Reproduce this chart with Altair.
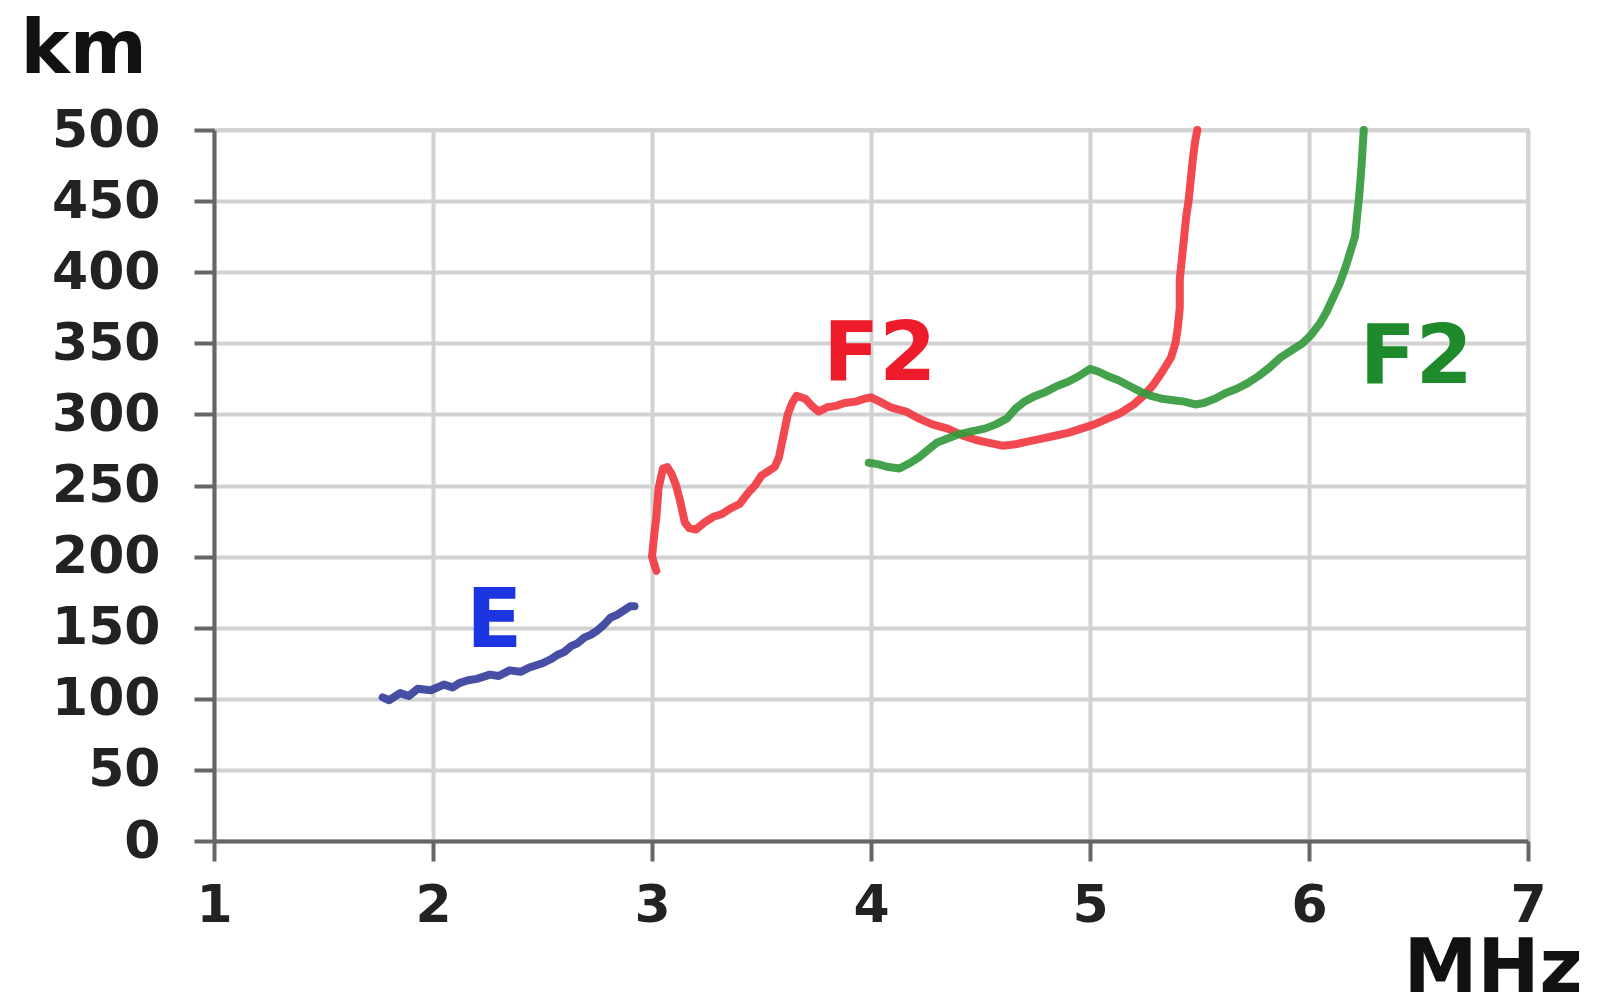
import altair as alt
import pandas as pd

# E layer (blue)
E_mhz = [1.77, 1.80, 1.85, 1.89, 1.93, 1.99, 2.05, 2.09, 2.12, 2.16, 2.20, 2.26, 2.30, 2.35, 2.40,
         2.44, 2.50, 2.54, 2.57, 2.60, 2.63, 2.66, 2.69, 2.72, 2.75, 2.78, 2.81, 2.84, 2.87, 2.90, 2.92]
E_km = [101, 99, 104, 102, 107, 106, 110, 108, 111, 113, 114, 117, 116, 120, 119,
        122, 125, 128, 131, 133, 137, 139, 143, 145, 148, 152, 157, 159, 162, 165, 165]

# F2 layer (red)
R_mhz = [3.02, 3.00, 3.01, 3.02, 3.03, 3.05, 3.07, 3.09, 3.11, 3.13, 3.15, 3.17, 3.20, 3.24, 3.28,
         3.32, 3.36, 3.40, 3.44, 3.47, 3.50, 3.53, 3.56, 3.58, 3.60, 3.62, 3.64, 3.66, 3.70, 3.73,
         3.76, 3.80, 3.84, 3.88, 3.93, 3.97, 4.00, 4.04, 4.09, 4.16, 4.22, 4.28, 4.35, 4.42, 4.48,
         4.54, 4.60, 4.66, 4.72, 4.78, 4.84, 4.90, 4.96, 5.02, 5.08, 5.14, 5.20, 5.25, 5.29, 5.33,
         5.37, 5.39, 5.40, 5.41, 5.41, 5.42, 5.43, 5.44, 5.45, 5.46, 5.47, 5.48, 5.49]
R_km = [190, 200, 215, 228, 248, 262, 263, 258, 250, 238, 224, 220, 219, 224, 228,
        230, 234, 237, 245, 250, 257, 260, 263, 270, 285, 300, 308, 313, 311, 306,
        302, 305, 306, 308, 309, 311, 312, 309, 305, 302, 297, 293, 290, 285, 282,
        280, 278, 279, 281, 283, 285, 287, 290, 293, 297, 301, 307, 314, 321, 330,
        340, 350, 360, 375, 395, 410, 425, 440, 450, 465, 480, 492, 500]

# F2 layer (green)
G_mhz = [3.99, 4.03, 4.08, 4.13, 4.18, 4.22, 4.26, 4.30, 4.35, 4.40, 4.46, 4.52, 4.57, 4.62, 4.66,
         4.70, 4.75, 4.80, 4.85, 4.90, 4.95, 5.00, 5.04, 5.08, 5.13, 5.18, 5.23, 5.28, 5.33, 5.38,
         5.43, 5.48, 5.52, 5.57, 5.62, 5.67, 5.72, 5.77, 5.82, 5.87, 5.92, 5.97, 6.01, 6.05, 6.08,
         6.11, 6.14, 6.17, 6.19, 6.21, 6.22, 6.23, 6.24, 6.25]
G_km = [266, 265, 263, 262, 266, 270, 275, 280, 283, 286, 288, 290, 293, 297, 304,
        309, 313, 316, 320, 323, 327, 332, 330, 327, 324, 320, 316, 313, 311, 310,
        309, 307, 308, 311, 315, 318, 322, 327, 333, 340, 345, 350, 356, 364, 372,
        382, 392, 405, 415, 425, 440, 455, 475, 500]

# labels
label_text = ["E", "F2", "F2"]
label_mhz = [2.28, 4.04, 6.49]
label_km = [154, 342, 340]
label_color = ["#1d35e0", "#ee1c2a", "#1f8a2b"]

series_names = ["E", "F2 red", "F2 green"]
series_colors = ["#36409c", "#f03a40", "#34993d"]

rows = []
for name, xs, ys in zip(series_names, [E_mhz, R_mhz, G_mhz], [E_km, R_km, G_km]):
    for i, (x, y) in enumerate(zip(xs, ys)):
        rows.append({"series": name, "idx": i, "mhz": x, "km": y})
df = pd.DataFrame(rows)

labels = pd.DataFrame({"t": label_text, "mhz": label_mhz, "km": label_km, "c": label_color})

FONT = "DejaVu Sans"

x_enc = alt.X("mhz:Q",
              scale=alt.Scale(domain=[1, 7], nice=False, zero=False),
              axis=alt.Axis(values=[1, 2, 3, 4, 5, 6, 7], format="d", title="MHz",
                            titleX=1368, titleY=150, titleAlign="right",
                            titleBaseline="alphabetic", titleFontSize=74,
                            titleFont=FONT, titleFontWeight="bold", titleColor="#111111",
                            labelFontSize=52, labelFont=FONT, labelFontWeight="bold",
                            labelColor="#222222", labelPadding=19, tickSize=20,
                            labelFlush=False,
                            tickWidth=4, tickColor="#666666", domainColor="#666666",
                            domainWidth=4, gridColor="#d2d2d2", gridWidth=4))
y_enc = alt.Y("km:Q",
              scale=alt.Scale(domain=[0, 500], nice=False),
              axis=alt.Axis(values=list(range(0, 501, 50)), title="km",
                            titleAngle=0, titleX=-194, titleY=-58, titleAlign="left",
                            titleBaseline="alphabetic", titleFontSize=74,
                            titleFont=FONT, titleFontWeight="bold", titleColor="#111111",
                            labelFontSize=52, labelFont=FONT, labelFontWeight="bold",
                            labelColor="#222222", labelPadding=34, tickSize=20,
                            labelFlush=False,
                            tickWidth=4, tickColor="#666666", domainColor="#666666",
                            domainWidth=4, gridColor="#d2d2d2", gridWidth=4))

lines = alt.Chart(df).mark_line(strokeWidth=8, strokeJoin="round", strokeCap="round",
                                opacity=0.92).encode(
    x=x_enc,
    y=y_enc,
    color=alt.Color("series:N", scale=alt.Scale(domain=series_names, range=series_colors),
                    legend=None),
    detail="series:N",
    order="idx:Q",
)

texts = alt.Chart(labels).mark_text(font=FONT, fontWeight="bold", fontSize=82,
                                    baseline="middle", align="center").encode(
    x="mhz:Q",
    y="km:Q",
    text="t:N",
    color=alt.Color("c:N", scale=None),
)

chart = alt.layer(lines, texts).properties(
    width=1314,
    height=711,
    autosize=alt.AutoSizeParams(type="none"),
    padding={"left": 206, "top": 122, "right": 60, "bottom": 155},
    background="white",
).configure_view(stroke="#b5b5b5", strokeWidth=3)

chart.save("out.html", embed_options={"renderer": "svg", "actions": False})
